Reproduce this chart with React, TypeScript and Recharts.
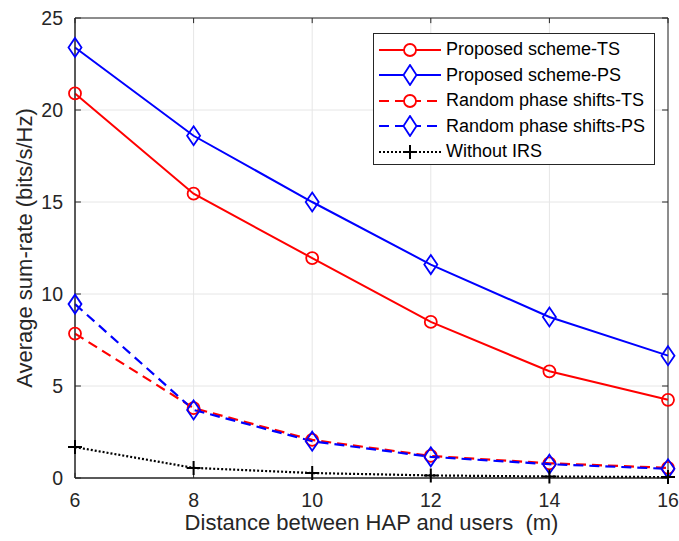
import React from 'react';
import { LineChart, Line, XAxis, YAxis, CartesianGrid, Legend, ReferenceArea, ReferenceLine } from 'recharts';

const distances = [6, 8, 10, 12, 14, 16];
const proposedTS = [20.9, 15.45, 11.95, 8.48, 5.8, 4.25];
const proposedPS = [23.4, 18.6, 15.0, 11.6, 8.75, 6.65];
const randomTS = [7.85, 3.8, 2.07, 1.2, 0.8, 0.55];
const randomPS = [9.45, 3.7, 2.0, 1.15, 0.75, 0.5];
const withoutIRS = [1.68, 0.55, 0.27, 0.14, 0.08, 0.05];
const xTicks = [6, 8, 10, 12, 14, 16];
const yTicks = [0, 5, 10, 15, 20, 25];

const seriesNames = [
  'Proposed scheme-TS',
  'Proposed scheme-PS',
  'Random phase shifts-TS',
  'Random phase shifts-PS',
  'Without IRS',
];

const data = distances.map((d, i) => ({
  d,
  pTS: proposedTS[i],
  pPS: proposedPS[i],
  rTS: randomTS[i],
  rPS: randomPS[i],
  w: withoutIRS[i],
}));

const FONT = '"Liberation Sans", Arial, Helvetica, sans-serif';
const RED = '#ff0000';
const BLUE = '#0000ff';
const AXIS = '#262626';
const X_MIN = 6;
const X_MAX = 16;
const Y_MIN = 0;
const Y_MAX = 25;
const X_TICK_LEN = 0.1; // inward tick length in x units
const Y_TICK_LEN = 0.28; // inward tick length in y units

const CircleDot = (props: any) => {
  const { cx, cy } = props;
  if (cx == null || cy == null) return null;
  return <circle key={`c-${cx}`} cx={cx} cy={cy} r={6} fill="none" stroke={RED} strokeWidth={1.8} />;
};
const DiamondDot = (props: any) => {
  const { cx, cy } = props;
  if (cx == null || cy == null) return null;
  return (
    <path
      key={`d-${cx}`}
      d={`M${cx},${cy - 9.5} L${cx + 6.5},${cy} L${cx},${cy + 9.5} L${cx - 6.5},${cy} Z`}
      fill="none"
      stroke={BLUE}
      strokeWidth={1.8}
    />
  );
};
const PlusDot = (props: any) => {
  const { cx, cy } = props;
  if (cx == null || cy == null) return null;
  return (
    <path
      key={`p-${cx}`}
      d={`M${cx - 7},${cy} L${cx + 7},${cy} M${cx},${cy - 7} L${cx},${cy + 7}`}
      stroke="#000"
      strokeWidth={2}
    />
  );
};

const legendItems = [
  { name: seriesNames[0], color: RED, dash: undefined, marker: 'circle' },
  { name: seriesNames[1], color: BLUE, dash: undefined, marker: 'diamond' },
  { name: seriesNames[2], color: RED, dash: '10 6', marker: 'circle' },
  { name: seriesNames[3], color: BLUE, dash: '10 6', marker: 'diamond' },
  { name: seriesNames[4], color: '#000', dash: '2 2', marker: 'plus' },
];

const LegendBox = () => (
  <div
    style={{
      border: '1px solid #262626',
      background: '#fff',
      width: 282,
      height: 132,
      padding: '3px 0 0 0',
      fontFamily: FONT,
      fontSize: 18,
      color: '#000',
      boxSizing: 'border-box',
    }}
  >
    {legendItems.map((it) => (
      <div key={it.name} style={{ display: 'flex', alignItems: 'center', height: 25.5 }}>
        <svg width={68} height={22} style={{ marginLeft: 3, flex: 'none' }}>
          <line x1={2} x2={64} y1={11} y2={11} stroke={it.color} strokeWidth={2} strokeDasharray={it.dash} />
          {it.marker === 'circle' && <circle cx={33} cy={11} r={6} fill="#fff" stroke={it.color} strokeWidth={1.8} />}
          {it.marker === 'diamond' && (
            <path d="M33,1 L39.5,11 L33,21 L26.5,11 Z" fill="#fff" stroke={it.color} strokeWidth={1.8} />
          )}
          {it.marker === 'plus' && <path d="M26,11 L40,11 M33,4 L33,18" stroke="#000" strokeWidth={2} />}
        </svg>
        <span style={{ marginLeft: 1, whiteSpace: 'nowrap' }}>{it.name}</span>
      </div>
    ))}
  </div>
);

export default function App() {
  return (
    <div style={{ position: 'absolute', left: 0, top: 0, width: 679, height: 541, background: '#fff' }}>
      <LineChart
        width={679}
        height={541}
        data={data}
        margin={{ top: 18, right: 11, left: 0, bottom: 0 }}
        style={{ fontFamily: FONT }}
      >
        <CartesianGrid stroke="#e6e6e6" strokeWidth={1} />
        <XAxis
          dataKey="d"
          type="number"
          domain={[X_MIN, X_MAX]}
          ticks={xTicks}
          height={63}
          stroke={AXIS}
          tickLine={false}
          tickMargin={9}
          tick={{ fill: AXIS, fontSize: 19.5 }}
          label={{
            value: 'Distance between HAP and users\u00a0 (m)',
            position: 'insideBottom',
            offset: 11,
            fill: AXIS,
            fontSize: 22,
          }}
        />
        <YAxis
          type="number"
          domain={[Y_MIN, Y_MAX]}
          ticks={yTicks}
          width={75}
          stroke={AXIS}
          tickLine={false}
          tickMargin={6}
          tick={{ fill: AXIS, fontSize: 19.5 }}
          label={{
            value: 'Average sum-rate (bits/s/Hz)',
            angle: -90,
            position: 'insideLeft',
            offset: 24,
            style: { textAnchor: 'middle' },
            fill: AXIS,
            fontSize: 22,
          }}
        />
        <ReferenceArea x1={X_MIN} x2={X_MAX} y1={Y_MIN} y2={Y_MAX} fill="none" stroke={AXIS} strokeWidth={1} ifOverflow="visible" />
        {xTicks.map((t) => (
          <ReferenceLine key={`bx${t}`} segment={[{ x: t, y: Y_MIN }, { x: t, y: Y_MIN + Y_TICK_LEN }]} stroke={AXIS} ifOverflow="visible" />
        ))}
        {xTicks.map((t) => (
          <ReferenceLine key={`tx${t}`} segment={[{ x: t, y: Y_MAX }, { x: t, y: Y_MAX - Y_TICK_LEN }]} stroke={AXIS} ifOverflow="visible" />
        ))}
        {yTicks.map((t) => (
          <ReferenceLine key={`ly${t}`} segment={[{ x: X_MIN, y: t }, { x: X_MIN + X_TICK_LEN, y: t }]} stroke={AXIS} ifOverflow="visible" />
        ))}
        {yTicks.map((t) => (
          <ReferenceLine key={`ry${t}`} segment={[{ x: X_MAX, y: t }, { x: X_MAX - X_TICK_LEN, y: t }]} stroke={AXIS} ifOverflow="visible" />
        ))}
        <Line dataKey="pTS" name={seriesNames[0]} stroke={RED} strokeWidth={2} dot={CircleDot} isAnimationActive={false} />
        <Line dataKey="pPS" name={seriesNames[1]} stroke={BLUE} strokeWidth={2} dot={DiamondDot} isAnimationActive={false} />
        <Line dataKey="rTS" name={seriesNames[2]} stroke={RED} strokeWidth={2.2} strokeDasharray="10 6" dot={CircleDot} isAnimationActive={false} />
        <Line dataKey="rPS" name={seriesNames[3]} stroke={BLUE} strokeWidth={2.2} strokeDasharray="10 6" dot={DiamondDot} isAnimationActive={false} />
        <Line dataKey="w" name={seriesNames[4]} stroke="#000" strokeWidth={2.2} strokeDasharray="2 2" dot={PlusDot} isAnimationActive={false} />
        <Legend
          content={LegendBox}
          layout="vertical"
          align="center"
          verticalAlign="middle"
          wrapperStyle={{ position: 'absolute', left: 373, top: 33, width: 282, height: 132 }}
        />
      </LineChart>
    </div>
  );
}
